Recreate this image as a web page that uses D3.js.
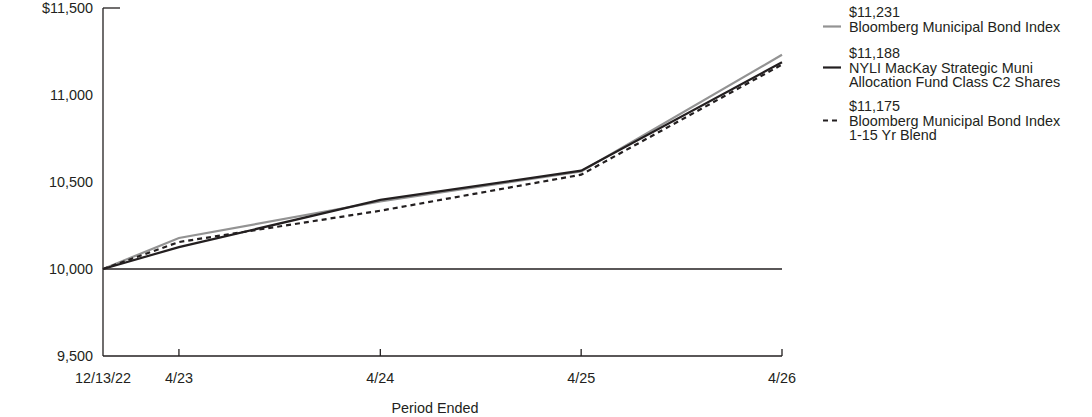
<!DOCTYPE html>
<html>
<head>
<meta charset="utf-8">
<script src="https://cdn.jsdelivr.net/npm/d3@7"></script>
<style>
  body { margin: 0; background: #fff; }
  svg text { font-family: "Liberation Sans", Arial, sans-serif; font-size: 14.4px; fill: #231f20; }
</style>
</head>
<body>
<div id="chart"></div>
<script>
// dates of each point
var dates = ["2022-12-13", "2023-04-30", "2024-04-30", "2025-04-30", "2026-04-30"];
var tickLabels = ["12/13/22", "4/23", "4/24", "4/25", "4/26"];

// series values
var muniIndex = [10000, 10178, 10388, 10560, 11231];
var fund = [10000, 10126, 10397, 10565, 11188];
var blendIndex = [10000, 10155, 10335, 10542, 11175];

var yTicks = [9500, 10000, 10500, 11000, 11500];

var series = [
  { name: ["$11,231", "Bloomberg Municipal Bond Index"], values: muniIndex, color: "#939393", dash: null },
  { name: ["$11,188", "NYLI MacKay Strategic Muni", "Allocation Fund Class C2 Shares"], values: fund, color: "#231f20", dash: null },
  { name: ["$11,175", "Bloomberg Municipal Bond Index", "1-15 Yr Blend"], values: blendIndex, color: "#231f20", dash: "5,4" }
];

var parse = d3.timeParse("%Y-%m-%d");
var xDates = dates.map(parse);

var svg = d3.select("#chart").append("svg")
    .attr("width", 1092)
    .attr("height", 417);

var x = d3.scaleTime()
    .domain([xDates[0], xDates[xDates.length - 1]])
    .range([103, 782]);

var y = d3.scaleLinear()
    .domain([9500, 11500])
    .range([356, 8]);

// baseline at 10,000
svg.append("line")
    .attr("x1", x(xDates[0])).attr("x2", x(xDates[4]))
    .attr("y1", y(10000)).attr("y2", y(10000))
    .attr("stroke", "#231f20").attr("stroke-width", 1.3);

// y axis line and top tick
svg.append("line")
    .attr("x1", 103).attr("x2", 103)
    .attr("y1", y(11500)).attr("y2", y(9500))
    .attr("stroke", "#231f20").attr("stroke-width", 1.3);
svg.append("line")
    .attr("x1", 103).attr("x2", 120)
    .attr("y1", y(11500)).attr("y2", y(11500))
    .attr("stroke", "#231f20").attr("stroke-width", 1.3);

svg.selectAll(".ylab")
    .data(yTicks)
  .enter().append("text")
    .attr("class", "ylab")
    .attr("x", 93)
    .attr("y", function(d) { return y(d); })
    .attr("dy", "0.35em")
    .attr("text-anchor", "end")
    .text(function(d) { return d == 11500 ? "$" + d3.format(",")(d) : d3.format(",")(d); });

// x axis
svg.append("line")
    .attr("x1", x(xDates[0])).attr("x2", x(xDates[4]))
    .attr("y1", y(9500)).attr("y2", y(9500))
    .attr("stroke", "#231f20").attr("stroke-width", 1.3);

svg.selectAll(".xtick")
    .data(xDates.slice(1))
  .enter().append("line")
    .attr("class", "xtick")
    .attr("x1", function(d) { return x(d); })
    .attr("x2", function(d) { return x(d); })
    .attr("y1", y(9500)).attr("y2", y(9500) - 7)
    .attr("stroke", "#231f20").attr("stroke-width", 1.3);

svg.selectAll(".xlab")
    .data(xDates)
  .enter().append("text")
    .attr("class", "xlab")
    .attr("x", function(d) { return x(d); })
    .attr("y", 383)
    .attr("text-anchor", "middle")
    .text(function(d, i) { return tickLabels[i]; });

svg.append("text")
    .attr("x", 435).attr("y", 413)
    .attr("text-anchor", "middle")
    .text("Period Ended");

// lines
var line = d3.line()
    .x(function(d, i) { return x(xDates[i]); })
    .y(function(d) { return y(d); });

svg.selectAll(".series")
    .data(series)
  .enter().append("path")
    .attr("class", "series")
    .attr("d", function(d) { return line(d.values); })
    .attr("fill", "none")
    .attr("stroke", function(d) { return d.color; })
    .attr("stroke-width", 2.2)
    .attr("stroke-dasharray", function(d) { return d.dash; });

// legend
var legendTop = [12, 53, 106];
var legend = svg.selectAll(".legend")
    .data(series)
  .enter().append("g")
    .attr("class", "legend")
    .attr("transform", function(d, i) { return "translate(0," + legendTop[i] + ")"; });

legend.append("line")
    .attr("x1", 823).attr("x2", 841)
    .attr("y1", 14.5).attr("y2", 14.5)
    .attr("stroke", function(d) { return d.color; })
    .attr("stroke-width", 2.2)
    .attr("stroke-dasharray", function(d) { return d.dash; });

legend.each(function(d) {
  var g = d3.select(this);
  d.name.forEach(function(t, j) {
    g.append("text")
      .attr("x", 849)
      .attr("y", j * 14.5)
      .attr("dy", "0.35em")
      .text(t);
  });
});
</script>
</body>
</html>
